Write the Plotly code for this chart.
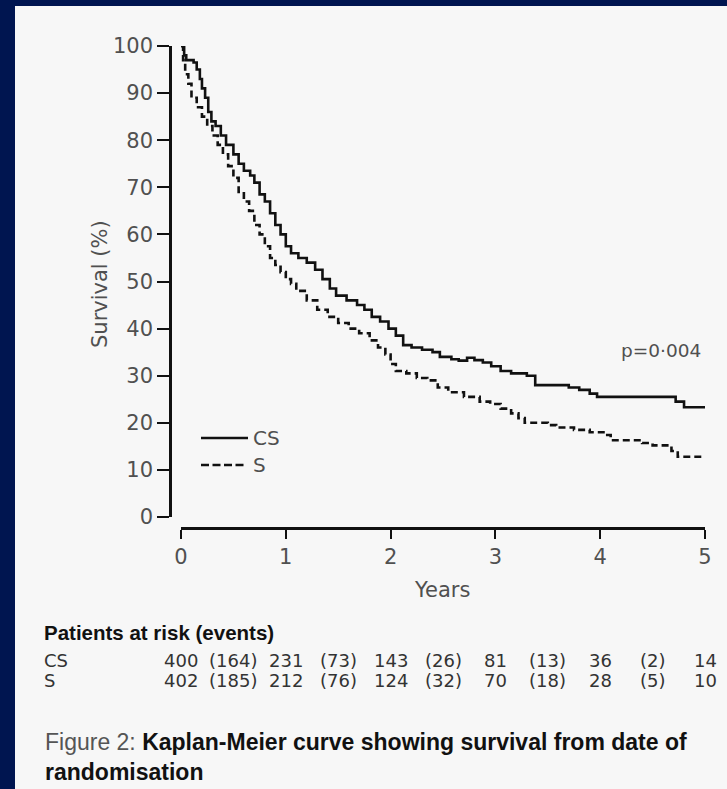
import plotly.graph_objects as go

# ---------------- data ----------------
cs_time = [0, 0.03, 0.05, 0.12, 0.15, 0.18, 0.2, 0.23, 0.26, 0.29, 0.33, 0.38, 0.43, 0.5,
           0.55, 0.6, 0.66, 0.7, 0.75, 0.8, 0.85, 0.9, 0.95, 1.0, 1.05, 1.12, 1.2, 1.28,
           1.35, 1.42, 1.48, 1.58, 1.68, 1.75, 1.82, 1.9, 1.98, 2.05, 2.12, 2.2, 2.3,
           2.4, 2.47, 2.58, 2.65, 2.73, 2.8, 2.88, 2.96, 3.05, 3.15, 3.3, 3.38, 3.7,
           3.8, 3.9, 3.97, 4.72, 4.8, 5.0]
cs_surv = [100, 98, 97, 96.5, 95, 93, 91, 89, 86, 84, 83, 81, 79, 77,
           75, 73.5, 72.5, 71, 68.5, 67, 64.5, 62, 60, 57.5, 56, 55, 54, 52.5,
           50.5, 48.5, 47, 46, 45, 44, 42.5, 41.5, 40, 38.5, 36.5, 36, 35.5,
           35, 34, 33.5, 33.2, 33.8, 33.3, 32.8, 32, 31, 30.5, 30, 28, 27.5,
           27, 26.2, 25.5, 24.5, 23.3, 23.3]

s_time = [0, 0.02, 0.04, 0.07, 0.1, 0.15, 0.2, 0.25, 0.3, 0.35, 0.4, 0.45, 0.5, 0.55,
          0.6, 0.65, 0.7, 0.75, 0.8, 0.85, 0.9, 0.95, 1.0, 1.05, 1.1, 1.2, 1.3, 1.4,
          1.5, 1.6, 1.7, 1.8, 1.88, 1.95, 2.0, 2.05, 2.15, 2.25, 2.35, 2.45, 2.55,
          2.7, 2.85, 2.95, 3.05, 3.15, 3.22, 3.28, 3.5, 3.58, 3.75, 3.9, 4.05, 4.1,
          4.4, 4.5, 4.68, 4.74, 5.0]
s_surv = [100, 97, 94, 92, 89, 87, 85, 83, 81, 79, 77, 74.5, 72, 69,
          67, 65, 62, 60, 57.5, 55, 53.5, 52, 50.5, 49.5, 48, 46, 44, 42.5,
          41.2, 40, 39, 37.5, 36, 34.5, 32.5, 31, 30.5, 29.5, 29, 27.5, 26.5,
          25.5, 24.5, 24, 23, 22, 21, 20, 19.5, 19, 18.5, 18, 17.4, 16.3,
          15.7, 15.2, 14, 12.8, 12.8]

x_ticks = [0, 1, 2, 3, 4, 5]
y_ticks = [0, 10, 20, 30, 40, 50, 60, 70, 80, 90, 100]

risk_years = [0, 1, 2, 3, 4, 5]
cs_at_risk = [400, 231, 143, 81, 36, 14]
cs_events = [164, 73, 26, 13, 2]
s_at_risk = [402, 212, 124, 70, 28, 10]
s_events = [185, 76, 32, 18, 5]

# ---------------- layout helpers ----------------
W, H = 727, 789
FONT = "Liberation Sans, Arial, sans-serif"
WIDE = "DejaVu Sans, Verdana, sans-serif"


def px(x):
    return x / W


def py(y):
    return 1 - y / H


fig = go.Figure()

fig.add_trace(go.Scatter(x=cs_time, y=cs_surv, mode="lines", line_shape="hv",
                         line=dict(color="#111111", width=2.6), name="CS",
                         showlegend=False, hoverinfo="skip"))
fig.add_trace(go.Scatter(x=s_time, y=s_surv, mode="lines", line_shape="hv",
                         line=dict(color="#111111", width=2.6, dash="7px,4px"),
                         name="S", showlegend=False, hoverinfo="skip"))

shapes = [
    # light panel on navy frame
    dict(type="rect", xref="paper", yref="paper", x0=px(15), x1=1.0, y0=0, y1=py(6),
         fillcolor="#f7f7f7", line=dict(width=0), layer="below"),
    # legend samples
    dict(type="line", xref="paper", yref="paper", x0=px(201), x1=px(248),
         y0=py(438), y1=py(438), line=dict(color="#111111", width=2.6)),
    dict(type="line", xref="paper", yref="paper", x0=px(201), x1=px(247),
         y0=py(465), y1=py(465), line=dict(color="#111111", width=2.6, dash="8px,3.5px")),
]

ann = []
tick_col = "#505050"
ann.append(dict(text="CS", x=px(251), y=py(438), xref="paper", yref="paper",
                xanchor="left", yanchor="middle", showarrow=False,
                font=dict(family=WIDE, size=20, color=tick_col)))
ann.append(dict(text="S", x=px(251), y=py(465), xref="paper", yref="paper",
                xanchor="left", yanchor="middle", showarrow=False,
                font=dict(family=WIDE, size=20, color=tick_col)))
ann.append(dict(text="p=0·004", x=px(703), y=py(350), xref="paper", yref="paper",
                xanchor="right", yanchor="middle", showarrow=False,
                font=dict(family=WIDE, size=18.5, color=tick_col)))
ann.append(dict(text="Survival (%)", x=px(100), y=py(284), xref="paper", yref="paper",
                xanchor="center", yanchor="middle", showarrow=False, textangle=-90,
                font=dict(family=WIDE, size=21, color=tick_col)))
ann.append(dict(text="Years", x=px(442), y=py(590), xref="paper", yref="paper",
                xanchor="center", yanchor="middle", showarrow=False,
                font=dict(family=WIDE, size=21, color=tick_col)))

# risk table
ann.append(dict(text="<b>Patients at risk (events)</b>", x=px(43), y=py(632),
                xref="paper", yref="paper", xanchor="left", yanchor="middle",
                showarrow=False, borderpad=0,
                font=dict(family=FONT, size=20.5, color="#111111")))
row_col = "#333333"
RS = 18
for label, yy, at_risk, events in [("CS", 660, cs_at_risk, cs_events),
                                   ("S", 680, s_at_risk, s_events)]:
    ann.append(dict(text=label, x=px(43), y=py(yy), xref="paper", yref="paper",
                    xanchor="left", yanchor="middle", showarrow=False, borderpad=0,
                    font=dict(family=WIDE, size=RS, color=row_col)))
    for yr, n in zip(risk_years, at_risk):
        ann.append(dict(text=str(n), x=yr, y=py(yy), xref="x", yref="paper",
                        xanchor="center", yanchor="middle", showarrow=False,
                        borderpad=0,
                        font=dict(family=WIDE, size=RS, color=row_col)))
    for yr, e in zip(risk_years[:-1], events):
        ann.append(dict(text=f"({e})", x=yr + 0.5, y=py(yy), xref="x", yref="paper",
                        xanchor="center", yanchor="middle", showarrow=False,
                        borderpad=0,
                        font=dict(family=WIDE, size=RS, color=row_col)))

ann.append(dict(text="<span style='color:#555555'>Figure 2: </span>"
                     "<b>Kaplan-Meier curve showing survival from date of</b><br>"
                     "<b>randomisation</b>",
                x=px(43), y=py(757), xref="paper", yref="paper", xanchor="left",
                yanchor="middle", align="left", showarrow=False,
                font=dict(family=FONT, size=23, color="#111111")))

axis_common = dict(showline=True, linecolor="#111111", linewidth=2.5,
                   ticks="outside", tickcolor="#111111", tickwidth=2.2,
                   showgrid=False, zeroline=False, automargin=False,
                   tickfont=dict(family=WIDE, size=21, color=tick_col))

fig.update_layout(
    width=W, height=H,
    margin=dict(l=0, r=0, t=0, b=0, pad=0, autoexpand=False),
    paper_bgcolor="#001550",
    plot_bgcolor="rgba(0,0,0,0)",
    showlegend=False,
    xaxis=dict(domain=[px(181), px(705)], range=[0, 5], anchor="free",
               position=py(528), tickvals=x_ticks, ticklen=9, **axis_common),
    yaxis=dict(domain=[py(517), py(46)], range=[0, 100], anchor="free",
               position=px(170), tickvals=y_ticks, ticklen=12, **axis_common),
    shapes=shapes,
    annotations=ann,
)

fig.write_html("out.html")
